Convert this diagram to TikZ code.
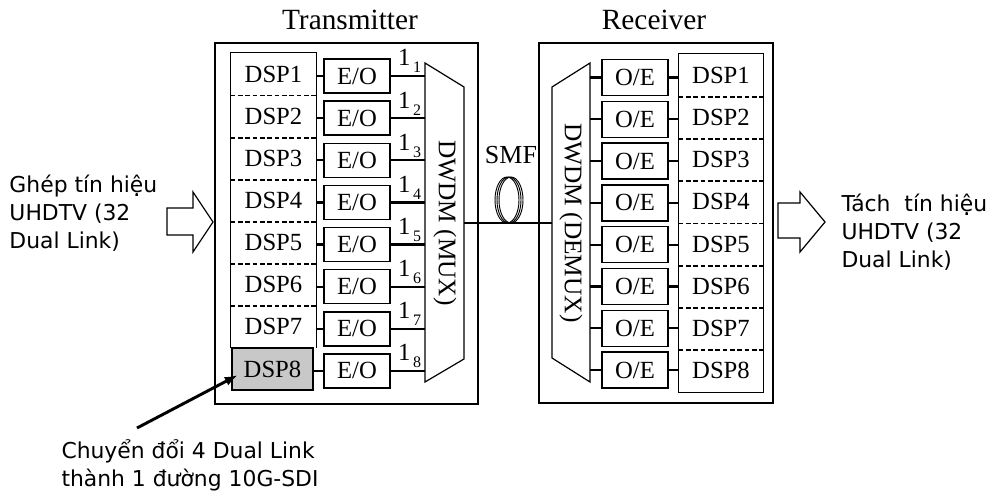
\documentclass[tikz,border=0pt]{standalone}
\usepackage{fontspec}
\setmainfont{Liberation Serif}
\newfontfamily\vnfont{DejaVu Sans}
\usetikzlibrary{arrows.meta}

\newcommand\lamsub[1]{\raisebox{-5.25pt}{\fontsize{12}{12}\selectfont\,#1}}

\tikzset{every picture/.style={line width=0.75pt}}
\tikzset{
  outerbox/.style={line width=1.9pt},
  colline/.style={line width=1.2pt},
  rowsep/.style={line width=1.2pt, dash pattern={on 3.5pt off 2pt}},
  dspcell/.style={inner sep=0pt, minimum width=63.75pt, minimum height=31.6pt, font=\fontsize{18.5}{20}\selectfont},
  rdspcell/.style={inner sep=0pt, minimum width=63pt, minimum height=31.7pt, font=\fontsize{18.5}{20}\selectfont},
  dspgray/.style={draw, line width=2.2pt, fill={rgb,255:red,200;green,200;blue,200}, inner sep=0pt, minimum width=60.75pt, minimum height=31.5pt, font=\fontsize{18.5}{20}\selectfont},
  convbox/.style={draw, line width=1.1pt, inner sep=0pt, minimum width=49.5pt, minimum height=25.5pt, font=\fontsize{18.5}{20}\selectfont},
  rconvbox/.style={convbox, minimum height=27pt},
  link/.style={line width=1.7pt},
  muxline/.style={line width=0.9pt},
  dwdm/.style={rotate=-90, inner sep=0pt, font=\fontsize{19}{20}\selectfont},
  lam/.style={anchor=base west, inner sep=0pt, font=\fontsize{18.5}{20}\selectfont},
  title/.style={inner sep=0pt, font=\fontsize{22}{24}\selectfont},
  coil/.style={line width=0.7pt},
  hollow/.style={line width=0.9pt, fill=white, line join=miter},
  vntext/.style={anchor=west, inner sep=0pt, align=left, font=\vnfont\fontsize{16.4}{21}\selectfont},
  ptr/.style={line width=2.2pt, -{Latex[length=10pt,width=7pt]}}
}

\begin{document}
\begin{tikzpicture}[x=0.75pt,y=0.75pt,yscale=-1,xscale=1]
\path[use as bounding box] (0,0) rectangle (994,495);

%Shape: Rectangle - transmitter
\draw[outerbox] (215,43) rectangle (478,404);
% Text Node
\draw (350,20) node[title] (txtitle) {Transmitter};

%DSP column - transmitter
\node[dspcell] (tdsp1) at (273.5,74.1) {DSP1};
\node[dspcell] (tdsp2) at (273.5,116.2) {DSP2};
\node[dspcell] (tdsp3) at (273.5,158.3) {DSP3};
\node[dspcell] (tdsp4) at (273.5,200.4) {DSP4};
\node[dspcell] (tdsp5) at (273.5,242.6) {DSP5};
\node[dspcell] (tdsp6) at (273.5,284.7) {DSP6};
\node[dspcell] (tdsp7) at (273.5,326.8) {DSP7};
\draw[colline] (tdsp7.south west) -- (tdsp1.north west) -- (tdsp1.north east) -- (tdsp7.south east);
\draw[rowsep] (tdsp1.south west) -- (tdsp1.south east);
\draw[rowsep] (tdsp2.south west) -- (tdsp2.south east);
\draw[rowsep] (tdsp3.south west) -- (tdsp3.south east);
\draw[rowsep] (tdsp4.south west) -- (tdsp4.south east);
\draw[rowsep] (tdsp5.south west) -- (tdsp5.south east);
\draw[rowsep] (tdsp6.south west) -- (tdsp6.south east);
\node[dspgray] (tdsp8) at (272.5,369) {DSP8};

%E/O boxes
\node[convbox] (teo1) at (357,76) {E/O};
\node[convbox] (teo2) at (357,118.2) {E/O};
\node[convbox] (teo3) at (357,160.3) {E/O};
\node[convbox] (teo4) at (357,202.4) {E/O};
\node[convbox] (teo5) at (357,244.6) {E/O};
\node[convbox] (teo6) at (357,286.7) {E/O};
\node[convbox] (teo7) at (357,328.8) {E/O};
\node[convbox] (teo8) at (357,370.9) {E/O};
\draw[link] (teo1.west -| tdsp1.east) -- (teo1.west);
\draw[link] (teo2.west -| tdsp2.east) -- (teo2.west);
\draw[link] (teo3.west -| tdsp3.east) -- (teo3.west);
\draw[link] (teo4.west -| tdsp4.east) -- (teo4.west);
\draw[link] (teo5.west -| tdsp5.east) -- (teo5.west);
\draw[link] (teo6.west -| tdsp6.east) -- (teo6.west);
\draw[link] (teo7.west -| tdsp7.east) -- (teo7.west);
\draw[link] (teo8.west -| tdsp8.east) -- (teo8.west);

%Shape: Trapezoid - MUX
\coordinate (muxtl) at (425,63);
\coordinate (muxtr) at (464,87);
\coordinate (muxbr) at (464,359);
\coordinate (muxbl) at (425,382);
\draw[muxline] (muxtl) -- (muxtr) -- (muxbr) -- (muxbl) -- cycle;
\node[dwdm] (muxtxt) at (445,223) {DWDM (MUX)};
\draw[link] (teo1.east) -- (teo1.east -| muxtl);
\draw[link] (teo2.east) -- (teo2.east -| muxtl);
\draw[link] (teo3.east) -- (teo3.east -| muxtl);
\draw[link] (teo4.east) -- (teo4.east -| muxtl);
\draw[link] (teo5.east) -- (teo5.east -| muxtl);
\draw[link] (teo6.east) -- (teo6.east -| muxtl);
\draw[link] (teo7.east) -- (teo7.east -| muxtl);
\draw[link] (teo8.east) -- (teo8.east -| muxtl);
% Text Node
\draw (teo1.east) ++(7,-10) node[lam] (lam1) {1\lamsub{1}};
\draw (teo2.east) ++(7,-10) node[lam] (lam2) {1\lamsub{2}};
\draw (teo3.east) ++(7,-10) node[lam] (lam3) {1\lamsub{3}};
\draw (teo4.east) ++(7,-10) node[lam] (lam4) {1\lamsub{4}};
\draw (teo5.east) ++(7,-10) node[lam] (lam5) {1\lamsub{5}};
\draw (teo6.east) ++(7,-10) node[lam] (lam6) {1\lamsub{6}};
\draw (teo7.east) ++(7,-10) node[lam] (lam7) {1\lamsub{7}};
\draw (teo8.east) ++(7,-10) node[lam] (lam8) {1\lamsub{8}};

%Shape: Rectangle - receiver
\draw[outerbox] (539,43) rectangle (773,403);
% Text Node
\draw (654,20) node[title] (rxtitle) {Receiver};

%Shape: Trapezoid - DEMUX
\coordinate (dmxtl) at (552,87);
\coordinate (dmxtr) at (590,63);
\coordinate (dmxbr) at (590,382);
\coordinate (dmxbl) at (552,358);
\draw[muxline] (dmxtl) -- (dmxtr) -- (dmxbr) -- (dmxbl) -- cycle;
\node[dwdm] (dmxtxt) at (571,223) {DWDM (DEMUX)};

%Fibre and coil
\draw[link] (muxtr |- muxtxt) -- (dmxtl |- muxtxt);
\draw[coil] (507,200) ellipse [x radius=12, y radius=23];
\draw[coil] (509,200) ellipse [x radius=12, y radius=23];
\draw[coil] (511,200) ellipse [x radius=12, y radius=23];
% Text Node
\draw (511,155) node[inner sep=0pt, font=\fontsize{19.5}{20}\selectfont] (smf) {SMF};

%O/E boxes
\node[rconvbox] (roe1) at (635,77.5) {O/E};
\node[rconvbox] (roe2) at (635,119.3) {O/E};
\node[rconvbox] (roe3) at (635,161.1) {O/E};
\node[rconvbox] (roe4) at (635,202.9) {O/E};
\node[rconvbox] (roe5) at (635,244.7) {O/E};
\node[rconvbox] (roe6) at (635,286.5) {O/E};
\node[rconvbox] (roe7) at (635,328.3) {O/E};
\node[rconvbox] (roe8) at (635,370.1) {O/E};

%DSP column - receiver
\node[rdspcell] (rdsp1) at (721,75.1) {DSP1};
\node[rdspcell] (rdsp2) at (721,117.4) {DSP2};
\node[rdspcell] (rdsp3) at (721,159.6) {DSP3};
\node[rdspcell] (rdsp4) at (721,201.9) {DSP4};
\node[rdspcell] (rdsp5) at (721,244.1) {DSP5};
\node[rdspcell] (rdsp6) at (721,286.4) {DSP6};
\node[rdspcell] (rdsp7) at (721,328.6) {DSP7};
\node[rdspcell] (rdsp8) at (721,370.9) {DSP8};
\draw[colline] (rdsp1.north west) rectangle (rdsp8.south east);
\draw[rowsep] (rdsp1.south west) -- ([xshift=1.5pt]rdsp1.south east);
\draw[rowsep] (rdsp2.south west) -- ([xshift=1.5pt]rdsp2.south east);
\draw[rowsep] (rdsp3.south west) -- ([xshift=1.5pt]rdsp3.south east);
\draw[rowsep] (rdsp4.south west) -- ([xshift=1.5pt]rdsp4.south east);
\draw[rowsep] (rdsp5.south west) -- ([xshift=1.5pt]rdsp5.south east);
\draw[rowsep] (rdsp6.south west) -- ([xshift=1.5pt]rdsp6.south east);
\draw[rowsep] (rdsp7.south west) -- ([xshift=1.5pt]rdsp7.south east);

\draw[link] (roe1.west -| dmxtr) -- (roe1.west);
\draw[link] (roe2.west -| dmxtr) -- (roe2.west);
\draw[link] (roe3.west -| dmxtr) -- (roe3.west);
\draw[link] (roe4.west -| dmxtr) -- (roe4.west);
\draw[link] (roe5.west -| dmxtr) -- (roe5.west);
\draw[link] (roe6.west -| dmxtr) -- (roe6.west);
\draw[link] (roe7.west -| dmxtr) -- (roe7.west);
\draw[link] (roe8.west -| dmxtr) -- (roe8.west);
\draw[link] (roe1.east) -- (roe1.east -| rdsp1.west);
\draw[link] (roe2.east) -- (roe2.east -| rdsp2.west);
\draw[link] (roe3.east) -- (roe3.east -| rdsp3.west);
\draw[link] (roe4.east) -- (roe4.east -| rdsp4.west);
\draw[link] (roe5.east) -- (roe5.east -| rdsp5.west);
\draw[link] (roe6.east) -- (roe6.east -| rdsp6.west);
\draw[link] (roe7.east) -- (roe7.east -| rdsp7.west);
\draw[link] (roe8.east) -- (roe8.east -| rdsp8.west);

%Block arrows
\draw[hollow] (167,208) -- (193,208) -- (193,192) -- (213,222) -- (193,252) -- (193,235) -- (167,235) -- cycle;
\draw[hollow] (778,203) -- (800,203) -- (800,192) -- (825,222) -- (800,252) -- (800,238) -- (778,238) -- cycle;

% Text Node
\node[vntext] (ghep) at (9,213) {Ghép tín hiệu\\UHDTV (32\\Dual Link)};
% Text Node
\node[vntext] (tach) at (841,232) {Tách\ \ tín hiệu\\UHDTV (32\\Dual Link)};
% Text Node
\node[vntext] (chuyen) at (61,465) {Chuyển đổi 4 Dual Link\\thành 1 đường 10G-SDI};

%Pointer to DSP8
\coordinate (ptrfrom) at (137,428);
\coordinate (ptrtip) at (238,375);
\draw[ptr] (ptrfrom) -- (ptrtip);

\end{tikzpicture}
\end{document}
